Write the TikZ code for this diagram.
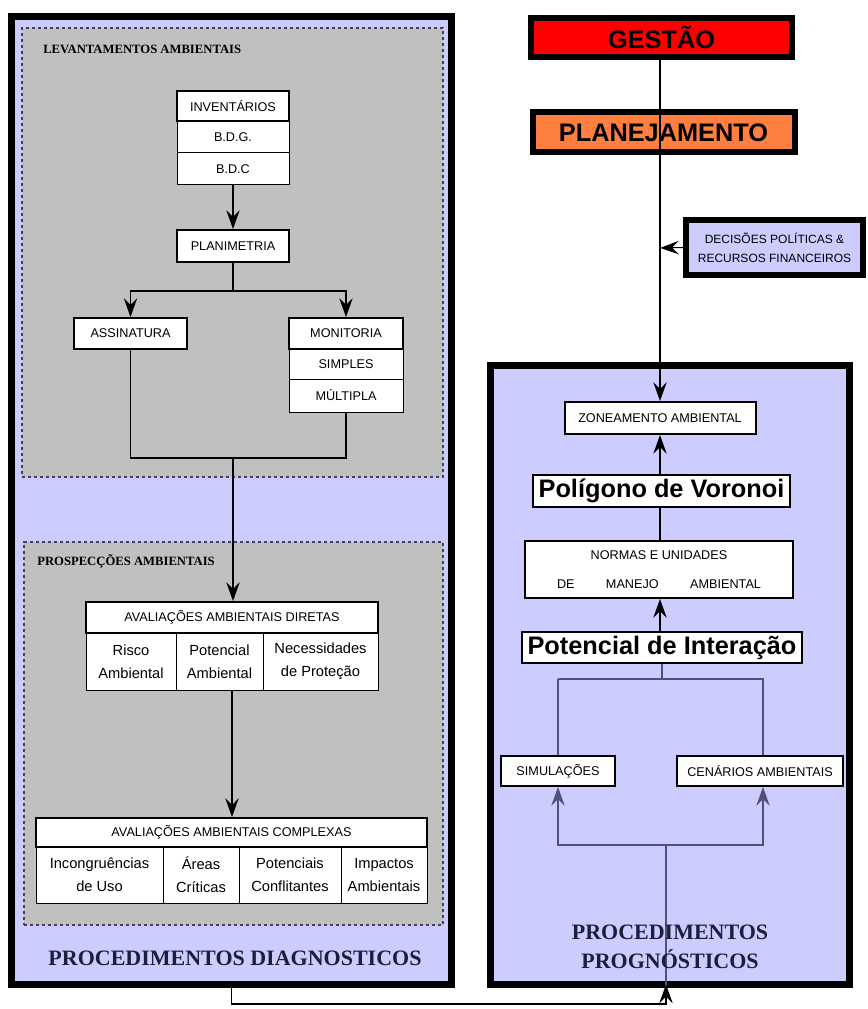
\documentclass[tikz,border=0pt]{standalone}
\usepackage{fontspec}
\setmainfont{Liberation Sans}
\newfontfamily\serifft{Liberation Serif}
\usetikzlibrary{arrows.meta}
\definecolor{lav}{HTML}{CCCCFF}
\definecolor{grayfill}{HTML}{C0C0C0}
\definecolor{navytext}{HTML}{1E1E3C}
\definecolor{dashcol}{HTML}{404060}
\definecolor{linkblue}{HTML}{50507A}
\definecolor{gred}{HTML}{FF0000}
\definecolor{porange}{HTML}{FF7F40}
\tikzset{
  sz/.style 2 args={minimum width=#1*0.75pt, minimum height=#2*0.75pt},
  frame/.style={draw=black, line width=5.25pt, fill=lav, inner sep=0pt},
  zone/.style={draw=dashcol, dash pattern=on 2.5pt off 2pt, line width=0.8pt, fill=grayfill, inner sep=0pt},
  hbox/.style={draw=black, line width=1.5pt, fill=white, inner sep=0pt, font=\fontsize{9.5}{11}\selectfont},
  rowbox/.style={draw=black, line width=0.75pt, fill=white, inner sep=0pt, font=\fontsize{9.5}{11}\selectfont},
  cell/.style={draw=black, line width=0.75pt, fill=white, inner sep=0pt, align=center, font=\fontsize{11}{17}\selectfont},
  bigbox/.style={draw=black, line width=1.5pt, fill=white, inner sep=0pt, font=\fontsize{19}{22}\selectfont\bfseries},
  topbox/.style={draw=black, line width=4.5pt, inner sep=0pt, font=\fontsize{19}{22}\selectfont\bfseries},
  seclabel/.style={inner sep=0pt, font=\serifft\fontsize{9.5}{11}\selectfont\bfseries},
  biglabel/.style={inner sep=0pt, text=navytext, align=center, font=\serifft\fontsize{16.5}{21.5}\selectfont\bfseries},
  conn/.style={draw=black, line width=0.8pt},
  bconn/.style={draw=linkblue, line width=0.9pt},
  arr/.style={-{Stealth[length=14pt, width=10pt, inset=5pt]}},
}
\begin{document}
\begin{tikzpicture}[x=0.75pt,y=-0.75pt]
\useasboundingbox (0,0) rectangle (867,1009);
\fill[white] (0,0) rectangle (867,1009);

% ---------- frames ----------
\node[frame, sz={440}{968}] (diag) at (231.5,500.5) {};
\node[zone, sz={421}{449}] (lev) at (232.5,252.5) {};
\node[zone, sz={419}{383}] (pros) at (233.5,733.5) {};
\node[frame, sz={359}{619}] (prog) at (670,675) {};

\node[seclabel, anchor=west] (levlab) at (43,49) {LEVANTAMENTOS AMBIENTAIS};
\node[seclabel, anchor=west] (proslab) at (37,561) {PROSPECÇÕES AMBIENTAIS};
\node[biglabel] (diaglab) at (235,958) {PROCEDIMENTOS DIAGNOSTICOS};

% ---------- levantamentos ----------
\node[rowbox, sz={112}{32}] (bdg) at (233,137) {B.D.G.};
\node[rowbox, sz={112}{32}] (bdc) at (233,169) {B.D.C};
\node[hbox, sz={112}{30}] (inv) at (233,106) {INVENTÁRIOS};
\node[hbox, sz={112}{32}] (plan) at (233,246) {PLANIMETRIA};
\node[hbox, sz={113}{31}] (ass) at (130.5,333.5) {ASSINATURA};
\node[rowbox, sz={114}{30}] (simp) at (346,364) {SIMPLES};
\node[rowbox, sz={114}{33}] (mult) at (346,395.5) {MÚLTIPLA};
\node[hbox, sz={114}{31}] (mon) at (346,333.5) {MONITORIA};

\coordinate (split1) at (233,291);
\coordinate (join1) at (233,458);
\draw[conn, arr] (bdc.south) -- (plan.north);
\draw[conn] (plan.south) -- (split1);
\draw[conn, arr] (split1) -| (ass.north);
\draw[conn, arr] (split1) -| (mon.north);
\draw[conn] (ass.south) |- (join1) -| (mult.south);

% ---------- prospeccoes ----------
\node[cell, sz={90}{57}] (risco) at (131,661.5) {Risco\\Ambiental};
\node[cell, sz={87}{57}] (potamb) at (219.5,661.5) {Potencial\\Ambiental};
\node[cell, sz={115}{57}] (nec) at (320.5,661.5) {Necessidades\\de Proteção};
\node[hbox, sz={292}{31}] (dir) at (232,617.5) {AVALIAÇÕES AMBIENTAIS DIRETAS};

\node[cell, sz={127}{56}] (inc) at (99.5,875) {Incongruências\\de Uso};
\node[cell, sz={76}{56}] (areas) at (201,875) {Áreas\\Críticas};
\node[cell, sz={102}{56}] (ptc) at (290,875) {Potenciais\\Conflitantes};
\node[cell, sz={86}{56}] (imp) at (384,875) {Impactos\\Ambientais};
\node[hbox, sz={391}{29}] (comp) at (231.5,832.5) {AVALIAÇÕES AMBIENTAIS COMPLEXAS};

\draw[conn, arr] (join1) -- (dir.north -| join1);
\coordinate (dirout) at (232,690);
\draw[conn, arr] (dirout) -- (comp.north -| dirout);

% ---------- right column ----------
\node[topbox, fill=gred, sz={261}{39}] (gest) at (661.5,37.5) {GESTÃO};
\node[topbox, fill=porange, sz={262}{40}] (planej) at (663.5,132.5) {PLANEJAMENTO};
\node[topbox, fill=lav, line width=4pt, align=center, font=\fontsize{9}{14}\selectfont, sz={177}{55}] (dec) at (774.5,247.5) {DECISÕES POLÍTICAS \&\\RECURSOS FINANCEIROS};

\node[hbox, sz={191}{32}] (zon) at (660,418) {ZONEAMENTO AMBIENTAL};
\node[bigbox, sz={257}{32}] (pol) at (661.5,491) {Polígono de Voronoi};
\node[hbox, sz={268}{57}, align=center, font=\fontsize{9.5}{22}\selectfont] (norm) at (659,569.5) {NORMAS E UNIDADES\\\hbox to 153pt{DE\hfill MANEJO\hfill AMBIENTAL}};
\node[bigbox, sz={280}{31}] (pint) at (662,647.5) {Potencial de Interação};
\node[hbox, sz={114}{30}] (sim) at (558,771) {SIMULAÇÕES};
\node[hbox, sz={166}{30}] (cen) at (760,771) {CENÁRIOS AMBIENTAIS};

\coordinate (vline) at (660,248);
\draw[conn] (gest.south -| vline) -- (planej.south -| vline);
\draw[conn, arr] (planej.south -| vline) -- (zon.north -| vline);
\draw[conn, arr] (dec.west) -- (vline);
\draw[conn, arr] (pol.north -| vline) -- (zon.south -| vline);
\draw[conn] (norm.north -| vline) -- (pol.south -| vline);
\draw[conn, arr] (pint.north -| vline) -- (norm.south -| vline);

\coordinate (split2) at (662,679);
\coordinate (cenx) at (763,679);
\coordinate (join2) at (666,845);
\draw[bconn] (pint.south -| split2) -- (split2);
\draw[bconn] (sim.north |- split2) -- (cenx) -- (cen.north -| cenx);
\draw[bconn] (sim.north |- split2) -- (sim.north);
\draw[bconn, arr] (join2) -| (sim.south);
\draw[bconn, arr] (join2) -| (cen.south -| cenx);
\draw[bconn] (join2) -- (prog.south -| join2);

\node[biglabel] (proglab) at (670,946.5) {PROCEDIMENTOS\\PROGNÓSTICOS};

% ---------- bottom connector ----------
\coordinate (bot) at (666,1004);
\draw[conn, arr, shorten >=-2.6pt] (diag.south) |- (bot) -- (prog.south -| bot);
\end{tikzpicture}
\end{document}
